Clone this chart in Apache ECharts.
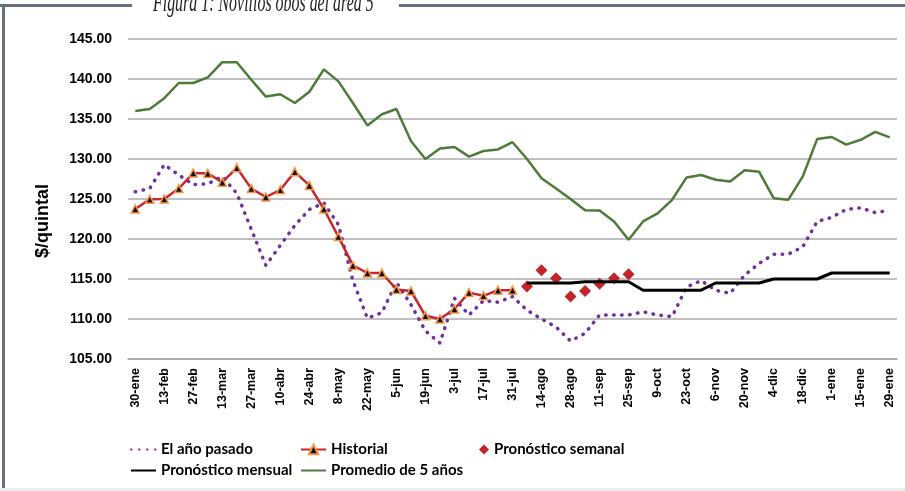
<!DOCTYPE html>
<html>
<head>
<meta charset="utf-8">
<script src="https://cdn.jsdelivr.net/npm/echarts@6/dist/echarts.min.js"></script>
<style>
  html, body { margin: 0; padding: 0; background: #fff; }
  #chart { width: 905px; height: 491px; }
</style>
</head>
<body>
<div id="chart"></div>
<script>
// weekly categories, every other one is labelled
const weeks = ['30-ene','6-feb','13-feb','20-feb','27-feb','6-mar','13-mar','20-mar','27-mar','3-abr',
  '10-abr','17-abr','24-abr','1-may','8-may','15-may','22-may','29-may','5-jun','12-jun',
  '19-jun','26-jun','3-jul','10-jul','17-jul','24-jul','31-jul','7-ago','14-ago','21-ago',
  '28-ago','4-sep','11-sep','18-sep','25-sep','2-oct','9-oct','16-oct','23-oct','30-oct',
  '6-nov','13-nov','20-nov','27-nov','4-dic','11-dic','18-dic','25-dic','1-ene','8-ene',
  '15-ene','22-ene','29-ene'];

const lastYear = [125.9,126.3,129.3,128.0,126.8,126.9,127.8,125.7,121.2,116.7,
  119.2,121.7,123.7,124.5,121.8,114.8,110.1,110.8,114.6,111.8,
  108.5,107.0,112.6,110.5,112.3,112.1,112.8,111.1,110.0,109.0,
  107.25,108.2,110.5,110.5,110.5,110.9,110.5,110.3,114.0,114.8,
  113.6,113.2,115.5,116.95,118.1,118.1,119.0,122.2,122.7,123.7,
  123.9,123.3,123.6];

const history = [123.75,124.96,125.0,126.3,128.25,128.2,127.1,128.9,126.3,125.25,
  126.15,128.4,126.7,123.75,120.3,116.7,115.75,115.75,113.7,113.5,
  110.4,110.0,111.25,113.3,112.9,113.6,113.6];

// forecasts start on 7-ago (index 27)
const forecastStart = 27;
const weeklyForecast = [114.05,116.1,115.1,112.8,113.5,114.4,115.1,115.6];
const monthlyForecast = [114.5,114.5,114.5,114.5,114.65,114.65,114.65,114.65,
  113.6,113.6,113.6,113.6,113.6,114.5,114.5,114.5,114.5,
  115.0,115.0,115.0,115.0,115.75,115.75,115.75,115.75,115.75];

const fiveYearAvg = [136.0,136.25,137.6,139.5,139.5,140.2,142.1,142.1,139.9,137.8,
  138.1,137.0,138.4,141.2,139.7,137.0,134.2,135.6,136.25,132.25,
  130.0,131.3,131.5,130.3,131.0,131.2,132.1,130.0,127.6,126.3,
  125.0,123.6,123.55,122.2,119.9,122.2,123.2,124.9,127.7,128.0,
  127.4,127.2,128.6,128.4,125.1,124.9,127.8,132.5,132.75,131.8,
  132.4,133.4,132.7];

const yTicks = { min: 105, max: 145, step: 5 };

// pad a partial series with nulls so it lines up with the weeks
function align(values, start) {
  const out = weeks.map(() => null);
  values.forEach((v, i) => { out[start + i] = v; });
  return out;
}

const sans = "'Liberation Sans', Arial, sans-serif";
const legendText = { fontFamily: "Lato, sans-serif", fontWeight: 'bold', fontSize: 15, color: '#000' };
// plain line icon in the legend (no marker)
const lineOnly = name => ({ name: name, itemStyle: { opacity: 0 } });

const chart = echarts.init(document.getElementById('chart'));

chart.setOption({
  animation: false,
  backgroundColor: '#fff',
  grid: { left: 128, right: 8, top: 39, bottom: 132 },
  graphic: [
    // frame, broken by the title
    { type: 'rect', shape: { x: 0, y: 4, width: 132, height: 3 }, style: { fill: '#66707a' } },
    { type: 'rect', shape: { x: 399, y: 4, width: 506, height: 3 }, style: { fill: '#66707a' } },
    { type: 'rect', shape: { x: 2, y: 4, width: 3, height: 487 }, style: { fill: '#66707a' } },
    { type: 'rect', shape: { x: 0, y: 488, width: 905, height: 3 }, style: { fill: '#ececec' } },
    {
      type: 'text', x: 153, y: -10, scaleX: 0.59,
      style: { x: 0, y: 0, verticalAlign: 'top', text: 'Figura 1: Novillos obos del área 5',
        fontFamily: "'Liberation Serif', serif", fontStyle: 'italic', fontSize: 27, fill: '#222' }
    }
  ],
  legend: [
    { left: 125, top: 437, orient: 'vertical', itemGap: 6, itemWidth: 25, itemHeight: 12,
      textStyle: legendText, data: [lineOnly('El año pasado'), lineOnly('Pronóstico mensual')] },
    { left: 295, top: 437, orient: 'vertical', itemGap: 6, itemWidth: 25, itemHeight: 12,
      textStyle: legendText, data: ['Historial', lineOnly('Promedio de 5 años')] },
    { left: 474, top: 437, itemWidth: 10, itemHeight: 10,
      textStyle: legendText, data: ['Pronóstico semanal'] }
  ],
  xAxis: {
    type: 'category',
    data: weeks,
    boundaryGap: true,
    axisLine: { lineStyle: { color: '#a6a6a6', width: 1.5 } },
    axisTick: { show: false },
    axisLabel: {
      interval: 1, rotate: 90, margin: 9, color: '#000',
      fontFamily: sans, fontWeight: 'bold', fontSize: 12.5
    }
  },
  yAxis: {
    type: 'value',
    min: yTicks.min, max: yTicks.max, interval: yTicks.step,
    name: '$/quintal', nameLocation: 'middle', nameGap: 76,
    nameTextStyle: { fontFamily: sans, fontWeight: 'bold', fontSize: 18, color: '#000', padding: [0, 44, 0, 0] },
    axisLine: { show: false },
    axisTick: { show: false },
    axisLabel: {
      margin: 16, color: '#000', formatter: v => v.toFixed(2),
      fontFamily: sans, fontWeight: 'bold', fontSize: 14
    },
    splitLine: { lineStyle: { color: '#ababab', width: 1.5 } }
  },
  series: [
    {
      name: 'Promedio de 5 años', type: 'line', data: fiveYearAvg, symbol: 'none',
      lineStyle: { color: '#4e7b3a', width: 2.5 }, itemStyle: { color: '#4e7b3a' }
    },
    {
      name: 'El año pasado', type: 'line', data: lastYear, symbol: 'none',
      lineStyle: { color: '#7030a0', width: 3.5, type: [0.5, 7.5], cap: 'round' },
      itemStyle: { color: '#7030a0' }
    },
    {
      name: 'Historial', type: 'line', data: align(history, 0),
      symbol: 'triangle', symbolSize: 8, showAllSymbol: true,
      lineStyle: { color: '#c9252c', width: 2.5 },
      itemStyle: { color: '#111', borderColor: '#f79646', borderWidth: 1.5 }
    },
    {
      name: 'Pronóstico mensual', type: 'line', data: align(monthlyForecast, forecastStart),
      symbol: 'none', lineStyle: { color: '#000', width: 3 }, itemStyle: { color: '#000' }
    },
    {
      name: 'Pronóstico semanal', type: 'scatter', data: align(weeklyForecast, forecastStart),
      symbol: 'diamond', symbolSize: 12, itemStyle: { color: '#c4232b', opacity: 1 }
    }
  ]
});
</script>
</body>
</html>
